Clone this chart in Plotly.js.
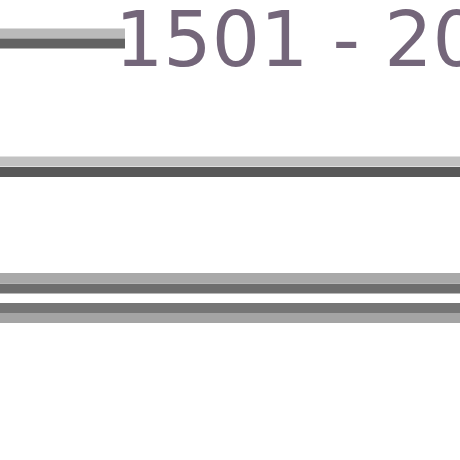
<!DOCTYPE html>
<html>
<head>
<meta charset="utf-8">
<script src="https://cdn.plot.ly/plotly-3.0.1.min.js"></script>
<style>
  html, body { margin: 0; padding: 0; background: #fff; }
  #chart { width: 460px; height: 460px; }
</style>
</head>
<body>
<div id="chart"></div>
<script>
// four grey rules, each a light and a dark stripe
var ruleNames = ['legend', 'rule1', 'rule2', 'rule3'];
var ruleEnd = [125, 460, 460, 460];
var lightY = [33.5, 161.5, 278, 318];
var darkY = [43.5, 172, 288.5, 308];
var lightColors = ['#bababa', '#c2c2c2', '#a9a9a9', '#a4a4a4'];
var darkColors = ['#626262', '#585858', '#6e6e6e', '#767676'];
var labelText = '1501 - 2000';

var traces = [];
for (var i = 0; i < ruleNames.length; i++) {
    traces.push({
        x: [0, ruleEnd[i]],
        y: [lightY[i], lightY[i]],
        name: ruleNames[i] + ' light',
        type: 'scatter',
        mode: 'lines',
        line: { color: lightColors[i], width: 10 },
        hoverinfo: 'skip'
    });
    traces.push({
        x: [0, ruleEnd[i]],
        y: [darkY[i], darkY[i]],
        name: ruleNames[i] + ' dark',
        type: 'scatter',
        mode: 'lines',
        line: { color: darkColors[i], width: 10 },
        hoverinfo: 'skip'
    });
}

var layout = {
    width: 460,
    height: 460,
    margin: { l: 0, r: 0, t: 0, b: 0, pad: 0 },
    paper_bgcolor: '#ffffff',
    plot_bgcolor: '#ffffff',
    showlegend: false,
    xaxis: { range: [0, 460], visible: false, fixedrange: true },
    yaxis: { range: [460, 0], visible: false, fixedrange: true },
    annotations: [{
        text: labelText,
        x: 113,
        y: 39,
        xref: 'x',
        yref: 'y',
        xanchor: 'left',
        yanchor: 'middle',
        showarrow: false,
        font: { family: 'DejaVu Sans, sans-serif', size: 76, color: '#74667a' }
    }]
};

Plotly.newPlot('chart', traces, layout, { displayModeBar: false, staticPlot: true });
</script>
</body>
</html>
